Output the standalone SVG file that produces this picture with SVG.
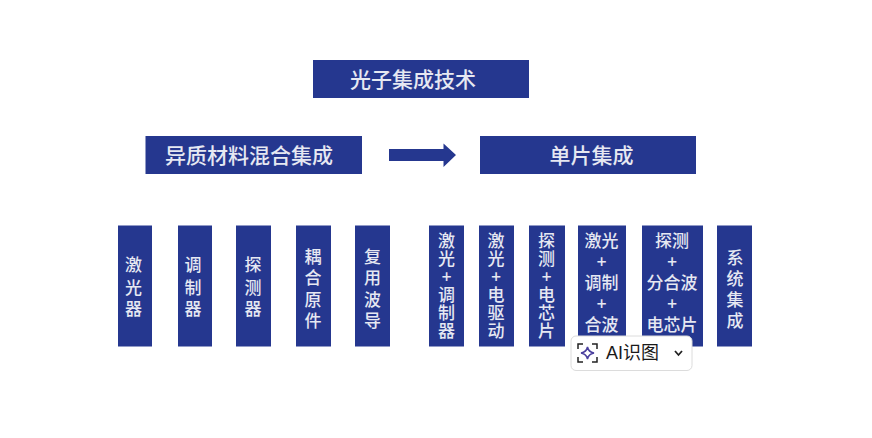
<svg xmlns="http://www.w3.org/2000/svg" width="872" height="438" viewBox="0 0 872 438">
<defs><style>
.b{fill:#25378f}
.t{font-family:"Noto Sans CJK SC","Noto Sans",sans-serif;fill:#e6e8f2;text-anchor:middle;font-weight:500}
.h{font-size:21px}
.v{font-size:17px}
.c{fill:none;stroke:#4a3f9e;stroke-width:1.5}
</style></defs>
<rect width="872" height="438" fill="#fff"/>
<g id="connectors"><path id="arrow" class="b" d="M389 149H443.500V143.500L456 155L443.500 167V161H389Z"/></g>
<g id="n-top"><rect class="b" x="313" y="60" width="216" height="38"/><text class="t h" x="413" y="87">光子集成技术</text></g>
<g id="n-hetero"><rect class="b" x="145.500" y="136" width="216.500" height="38"/><text class="t h" x="249" y="162.500">异质材料混合集成</text></g>
<g id="n-mono"><rect class="b" x="480" y="136" width="216" height="38"/><text class="t h" x="591.500" y="162.500">单片集成</text></g>
<g id="n1"><rect class="b" x="118" y="225.500" width="34" height="121"/><text class="t v" x="133.500 133.500 133.500" y="271 294 315">激光器</text></g>
<g id="n2"><rect class="b" x="178" y="225.500" width="34" height="121"/><text class="t v" x="193 193 193" y="271 294 315">调制器</text></g>
<g id="n3"><rect class="b" x="236" y="225.500" width="35" height="121"/><text class="t v" x="253 253 253" y="271 294 315">探测器</text></g>
<g id="n4"><rect class="b" x="296" y="225.500" width="35" height="121"/><text class="t v" x="313 313 313 313" y="263 284 306 327">耦合原件</text></g>
<g id="n5"><rect class="b" x="355" y="225.500" width="35" height="121"/><text class="t v" x="372.500 372.500 372.500 372.500" y="263 284 306 327">复用波导</text></g>
<g id="n6"><rect class="b" x="429" y="225.500" width="35" height="121"/><text class="t v" x="446.500 446.500 446.500 446.500 446.500 446.500" y="247 265 283 301 319 337">激光+调制器</text></g>
<g id="n7"><rect class="b" x="479" y="225.500" width="35" height="121"/><text class="t v" x="496 496 496 496 496 496" y="247 265 283 301 319 337">激光+电驱动</text></g>
<g id="n8"><rect class="b" x="529" y="225.500" width="36" height="121"/><text class="t v" x="546.500 546.500 546.500 546.500 546.500 546.500" y="247 265 283 301 319 337">探测+电芯片</text></g>
<g id="n9"><rect class="b" x="578" y="225.500" width="48" height="121"/><text class="t v" x="593 610 601.500 593 610 601.500 593 610" y="247 247 268 289 289 310 331 331">激光+调制+合波</text></g>
<g id="n10"><rect class="b" x="642" y="225.500" width="61" height="121"/><text class="t v" x="663.500 680.500 672 655 672 689 672 655 672 689" y="247 247 268 289 289 289 310 331 331 331">探测+分合波+电芯片</text></g>
<g id="n11"><rect class="b" x="717" y="225.500" width="35" height="121"/><text class="t v" x="735 735 735 735" y="264 285 306 327">系统集成</text></g>
<g id="ai-badge">
<rect x="571" y="336" width="121" height="34.500" rx="5" fill="#fff" stroke="#dcdcdc"/>
<path d="M578 349V344H583M592 344H597V349M597 357V362H592M583 362H578V357" fill="none" stroke="#222" stroke-width="1.500"/>
<path class="c" d="M587.500 347Q588.500 352 594 353Q588.500 354 587.500 359Q586.500 354 581 353Q586.500 352 587.500 347Z"/>
<text x="606" y="359" font-family="'Liberation Sans','Noto Sans CJK SC',sans-serif" font-size="18" fill="#1a1a1a">AI识图</text>
<path d="M675 351L678.500 355L682 351" fill="none" stroke="#222" stroke-width="1.800"/>
</g>
</svg>
